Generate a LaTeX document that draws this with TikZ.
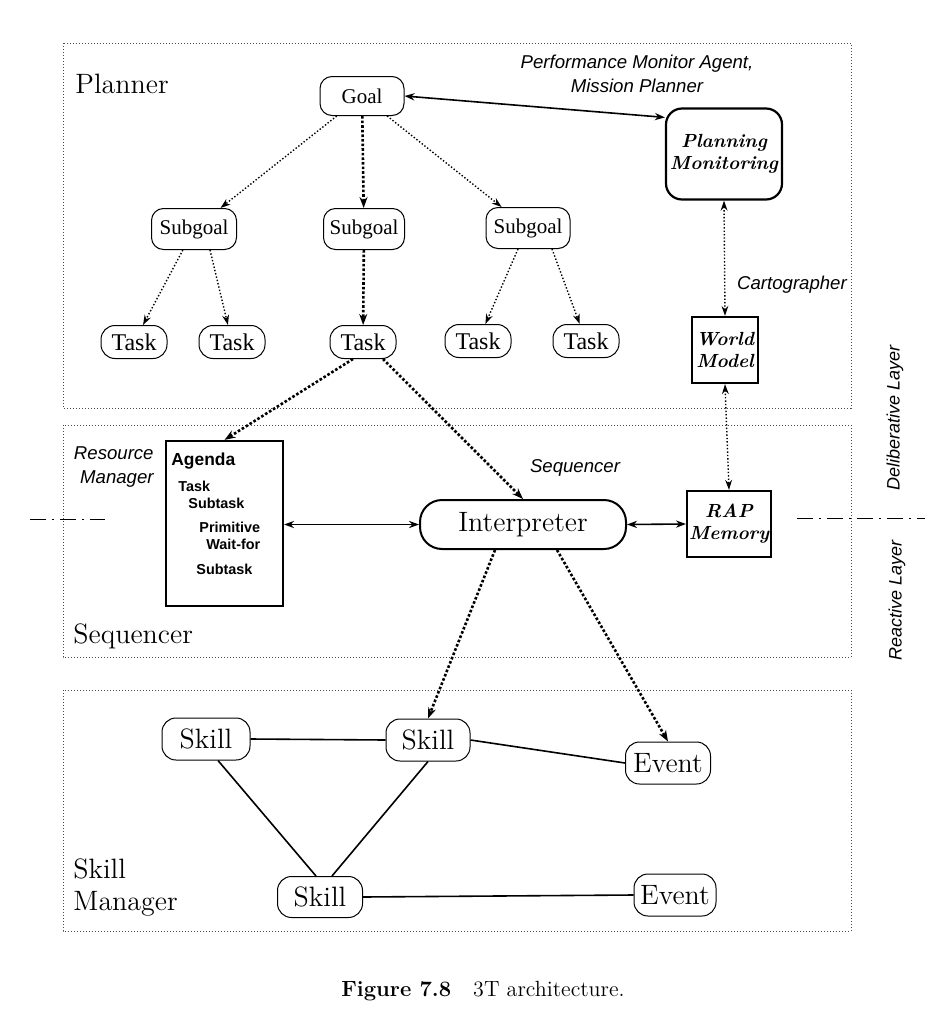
\documentclass[tikz,border=0pt]{standalone}
\usepackage{fontspec}
\newfontfamily\helvfont{Liberation Sans}
\newfontfamily\tmsfont{Liberation Serif}
\usetikzlibrary{shapes,arrows,arrows.meta}
\tikzstyle{arrow} = [->,>={Stealth[length=5pt,width=3.6pt]}]
\tikzstyle{biarrow} = [<->,>={Stealth[length=5pt,width=3.6pt]}, line width=0.8pt]
\tikzstyle{dotarrow} = [->,>={Stealth[length=5pt,width=3.4pt]}, densely dotted, line width=0.7pt]
\tikzstyle{thickdot} = [->,>={Stealth[length=5.5pt,width=4pt]}, densely dotted, line width=1.3pt]
\tikzstyle{frame} = [draw=black!70, densely dotted, line width=0.5pt]
\tikzstyle{goalbox} = [rectangle, draw, rounded corners=6pt, inner sep=1pt, line width=0.5pt,
font=\tmsfont\fontsize{10.5}{12}\selectfont]
\tikzstyle{taskbox} = [rectangle, draw, rounded corners=7pt, inner sep=1pt, line width=0.5pt,
minimum width=33pt, minimum height=16.5pt, font=\tmsfont\fontsize{12}{14}\selectfont]
\tikzstyle{skillbox} = [rectangle, draw, rounded corners=7pt, inner sep=1pt, line width=0.5pt,
minimum width=42pt, minimum height=21pt, font=\fontsize{14}{16}\selectfont]
\tikzstyle{hardbox} = [rectangle, draw, line width=1.1pt, inner sep=1pt, align=center,
font=\bfseries\itshape\fontsize{9.5}{11}\selectfont]
\tikzstyle{layertitle} = [anchor=west, align=left, inner sep=0pt, font=\fontsize{14}{16}\selectfont]
\tikzstyle{tag} = [font=\helvfont\itshape\fontsize{9.3}{12}\selectfont, inner sep=0pt]
\tikzstyle{agendaitem} = [anchor=west, inner sep=0pt, font=\helvfont\bfseries\fontsize{7.2}{9}\selectfont]

\begin{document}
\begin{tikzpicture}[x=0.5pt, y=-0.5pt]
				\useasboundingbox (0,0) rectangle (936,1028);
				% Frames
				\draw[frame] (63,43) rectangle (851,408);
				\draw[frame] (63,425) rectangle (851,657);
				\draw[frame] (63,690) rectangle (851,931);
				\draw[dash pattern=on 8pt off 3pt on 1pt off 3pt, line width=0.5pt] (30,519) -- (105,519);
				\draw[dash pattern=on 8pt off 3pt on 1pt off 3pt, line width=0.5pt] (797,518) -- (925,518);
				
				% Planner layer
				\node (plannerlabel) [layertitle] at (75,84) {Planner};
				\node (goal) [goalbox, minimum width=42pt, minimum height=19.5pt] at (362,96) {Goal};
				\node (planmon) [hardbox, rounded corners=8pt, minimum width=58pt, minimum height=45.5pt] at (724,154) {Planning\\Monitoring};
				\node (pmagent) [tag, align=center] at (637,74) {Performance Monitor Agent,\\Mission Planner};
				\node (subgoalA) [goalbox, minimum width=42.5pt, minimum height=20.5pt] at (194,229) {Subgoal};
				\node (subgoalB) [goalbox, minimum width=40.5pt, minimum height=20.5pt] at (364,229) {Subgoal};
				\node (subgoalC) [goalbox, minimum width=42pt, minimum height=20.5pt] at (528,228) {Subgoal};
				\node (taskA) [taskbox] at (134,342) {Task};
				\node (taskB) [taskbox] at (232,342) {Task};
				\node (taskC) [taskbox] at (363,342) {Task};
				\node (taskD) [taskbox] at (478,341) {Task};
				\node (taskE) [taskbox] at (586,341) {Task};
				\node (worldmodel) [hardbox, minimum width=33pt, minimum height=33pt] at (725,350) {World\\Model};
				\node (carto) [tag] at (792,285) {Cartographer};
				
				% Sequencer layer
				\node (seqlabel) [layertitle] at (73,636) {Sequencer};
				\node (resmgr) [tag, align=right, anchor=east] at (154,467) {Resource\\Manager};
				\node (agenda) [rectangle, draw, line width=1.1pt, minimum width=58.5pt, minimum height=82.5pt] at (224.5,523.5) {};
				\node (agendatitle) [agendaitem, font=\helvfont\bfseries\fontsize{8.7}{10}\selectfont] at (171,461) {Agenda};
				\node (agtask) [agendaitem] at (178,486) {Task};
				\node (agsubA) [agendaitem] at (188,503) {Subtask};
				\node (agprim) [agendaitem] at (199,527) {Primitive};
				\node (agwait) [agendaitem] at (206,544) {Wait-for};
				\node (agsubB) [agendaitem] at (196,569) {Subtask};
				\node (interp) [rectangle, draw, rounded corners=11pt, line width=1pt, minimum width=103pt, minimum height=24.5pt,
				font=\fontsize{14}{16}\selectfont] at (523,524.5) {Interpreter};
				\node (seqtag) [tag] at (575,468) {Sequencer};
				\node (rapmem) [hardbox, minimum width=37pt, minimum height=33pt] at (729,524) {RAP\\Memory};
				\node (delib) [tag, rotate=90, font=\helvfont\itshape\fontsize{9}{11}\selectfont] at (895,418) {Deliberative Layer};
				\node (reactive) [tag, rotate=90, font=\helvfont\itshape\fontsize{9}{11}\selectfont] at (897,600) {Reactive Layer};
				
				% Skill manager layer
				\node (skillmgr) [layertitle] at (73,888) {Skill\\Manager};
				\node (skillA) [skillbox, minimum width=44pt] at (206,739) {Skill};
				\node (skillB) [skillbox] at (428,740) {Skill};
				\node (eventA) [skillbox, minimum width=42.5pt] at (668,763) {Event};
				\node (skillC) [skillbox, minimum width=42.5pt, minimum height=20.5pt] at (320,897) {Skill};
				\node (eventB) [skillbox, minimum width=41pt] at (675,895) {Event};
				
				% Caption
				\node (caption) [font=\fontsize{11}{13}\selectfont] at (483,991) {\textbf{Figure 7.8}\quad 3T architecture.};
				
				% Connectors
				\draw[biarrow] (goal.east) -- ([yshift=-5pt]planmon.north west);
				\draw[dotarrow] (goal) -- (subgoalA);
				\draw[thickdot] (goal) -- (subgoalB);
				\draw[dotarrow] (goal) -- (subgoalC);
				\draw[dotarrow] (subgoalA) -- (taskA);
				\draw[dotarrow] ([xshift=8pt]subgoalA.south) -- (taskB);
				\draw[thickdot] (subgoalB) -- (taskC);
				\draw[dotarrow] ([xshift=-5pt]subgoalC.south) -- (taskD);
				\draw[dotarrow] ([xshift=12pt]subgoalC.south) -- (taskE);
				\draw[dotarrow, <->] (planmon.south) -- (worldmodel.north);
				\draw[dotarrow, <->] (worldmodel.south) -- (rapmem.north);
				\draw[thickdot] ([xshift=-5pt]taskC.south) -- (agenda.north);
				\draw[thickdot] ([xshift=10pt]taskC.south) -- (interp.north);
				\draw[biarrow] (agenda.east |- interp.west) -- (interp.west);
				\draw[biarrow] (interp.east) -- (rapmem.west);
				\draw[thickdot] ([xshift=-14pt]interp.south) -- (skillB.north);
				\draw[thickdot] ([xshift=17pt]interp.south) -- (eventA.north);
				\draw[line width=0.8pt] (skillA.east) -- (skillB.west);
				\draw[line width=0.8pt] (skillB.east) -- (eventA.west);
				\draw[line width=0.8pt] ([xshift=6pt]skillA.south) -- ([xshift=-2pt]skillC.north);
				\draw[line width=0.8pt] (skillB.south) -- ([xshift=6pt]skillC.north);
				\draw[line width=0.8pt] (skillC.east) -- (eventB.west);
				
				
			\end{tikzpicture}
\end{document}
